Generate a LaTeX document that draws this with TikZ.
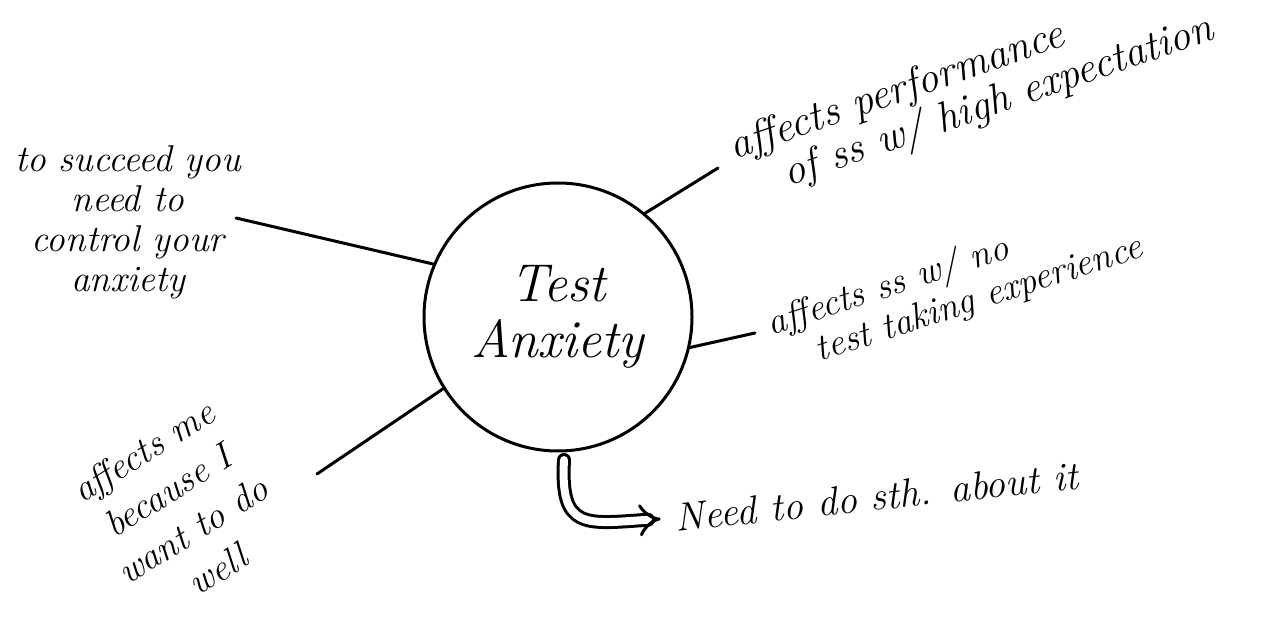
\documentclass[tikz,border=0pt]{standalone}
\usetikzlibrary{arrows.meta}

\tikzset{every picture/.style={line width=0.75pt}}
\tikzset{
  hand/.style={font=\fontsize{28}{30}\selectfont\itshape, align=center, inner sep=0.75pt},
  spoke/.style={line width=2.25pt, line cap=round},
}

\begin{document}
\begin{tikzpicture}[x=0.75pt,y=0.75pt,yscale=-1,xscale=1]
	\path[use as bounding box] (0,0) rectangle (1265,620);

	% Text Node
	\node [draw, circle, line width=2.25pt, minimum size=201pt, inner sep=0pt, font=\fontsize{40}{42}\selectfont\itshape, align=center] (ta) at (558,317) {Test\\Anxiety};
	% Text Node
	\node [hand] (succ) at (128,222) {to succeed you\\need to\\control your\\anxiety};
	% Text Node
	\node [hand, font=\fontsize{32}{32}\selectfont\itshape, align=left, rotate=19] (perf) at (972,90) {affects performance\\\quad of ss w/ high expectation};
	% Text Node
	\node [hand, align=left, rotate=18] (tte) at (955,286) {affects ss w/ no\\\quad test taking experience};
	% Text Node
	\node [hand, font=\fontsize{28}{35}\selectfont\itshape, rotate=32] (me) at (180,510) {affects me\\because I\\want to do\\well};
	% Text Node
	\node [hand, font=\fontsize{30}{30}\selectfont\itshape, rotate=6, anchor=west] (act) at (674,518) {Need to do sth. about it};

	% Connection
	\coordinate (succEnd) at (236,218);
	\draw [spoke] (ta.157) -- (succEnd);
	% Connection
	\coordinate (perfEnd) at (718,168);
	\draw [spoke] (ta.50) -- (perfEnd);
	% Connection
	\coordinate (tteEnd) at (755,333);
	\draw [spoke] (ta.-13) -- (tteEnd);
	% Connection
	\coordinate (meEnd) at (317,474);
	\draw [spoke] (ta.212) -- (meEnd);
	% Connection
	\coordinate (hookTop) at (564,460);
	\draw [spoke, double, double distance=6pt, -{Implies}, shorten >=10pt] (hookTop) .. controls (560,530) and (585,524) .. (act.west);

\end{tikzpicture}
\end{document}
